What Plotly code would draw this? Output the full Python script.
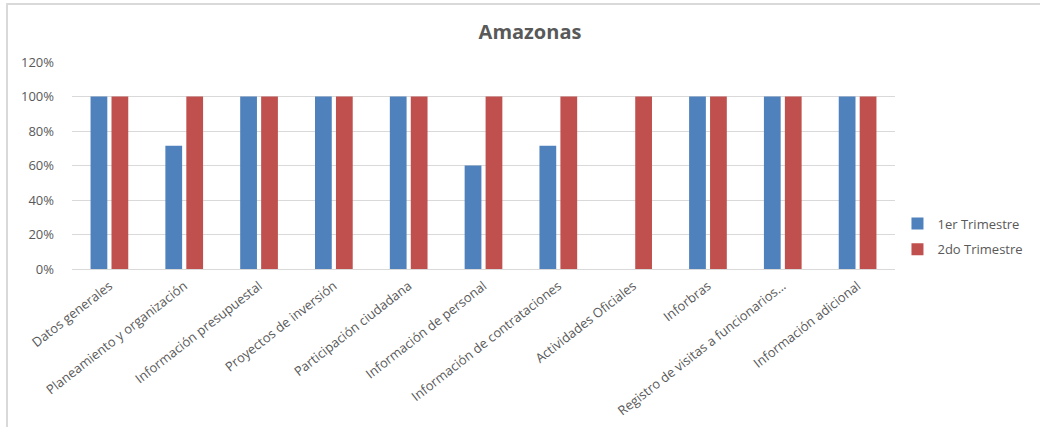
import plotly.graph_objects as go

categories = [
    "Datos generales",
    "Planeamiento y organización",
    "Información presupuestal",
    "Proyectos de inversión",
    "Participación ciudadana",
    "Información de personal",
    "Información de contrataciones",
    "Actividades Oficiales",
    "Inforbras",
    "Registro de visitas a funcionarios...",
    "Información adicional",
]
trim1 = [1.0, 0.714, 1.0, 1.0, 1.0, 0.60, 0.714, 0.0, 1.0, 1.0, 1.0]
trim2 = [1.0, 1.0, 1.0, 1.0, 1.0, 1.0, 1.0, 1.0, 1.0, 1.0, 1.0]
yticks = [0, 0.2, 0.4, 0.6, 0.8, 1.0, 1.2]
yticklabels = ["0%", "20%", "40%", "60%", "80%", "100%", "120%"]

fig = go.Figure()
fig.add_trace(go.Bar(x=categories, y=trim1, name="1er Trimestre", legendgroup="a",
                     marker=dict(color="#4F81BD", line=dict(width=0))))
fig.add_trace(go.Bar(x=categories, y=trim2, name="2do Trimestre", legendgroup="b",
                     marker=dict(color="#C0504D", line=dict(width=0))))

font_family = "Open Sans, Liberation Sans, sans-serif"
fig.update_layout(
    width=1040, height=427,
    margin=dict(l=72, r=145, t=62, b=158, autoexpand=False),
    paper_bgcolor="white", plot_bgcolor="white",
    barmode="group", bargap=0.44, bargroupgap=0.2,
    title=dict(text="<b>Amazonas</b>", x=530/1040, xanchor="center",
               y=1 - 32/427, yanchor="middle",
               font=dict(family=font_family, size=20, color="#595959")),
    font=dict(family=font_family, size=13, color="#595959"),
    showlegend=True,
    legend=dict(x=1.003, xanchor="left", y=0.157, yanchor="middle",
                font=dict(family=font_family, size=13, color="#595959"),
                itemwidth=30, tracegroupgap=6, bgcolor="rgba(0,0,0,0)"),
    xaxis=dict(tickangle=-38, showgrid=False, showline=False, ticks="",
               automargin=False, ticklabelstandoff=6,
               tickfont=dict(family=font_family, size=13, color="#595959")),
    yaxis=dict(range=[0, 1.2], tickvals=yticks, ticktext=yticklabels,
               showgrid=True, gridcolor="#D9D9D9", gridwidth=1,
               zeroline=True, zerolinecolor="#D9D9D9", zerolinewidth=1,
               showline=False, ticks="", automargin=False,
               ticklabelstandoff=17,
               tickfont=dict(family=font_family, size=13, color="#595959")),
    shapes=[
        dict(type="line", xref="paper", yref="paper",
             x0=-0.080, x1=1.20, y0=1.28, y1=1.28,
             line=dict(color="#D9D9D9", width=2)),
        dict(type="line", xref="paper", yref="paper",
             x0=-0.079, x1=-0.079, y0=1.28, y1=-0.78,
             line=dict(color="#D9D9D9", width=2)),
    ],
)

fig.write_html("out.html", config={"displayModeBar": False},
               post_script="document.body.style.margin='0';")
